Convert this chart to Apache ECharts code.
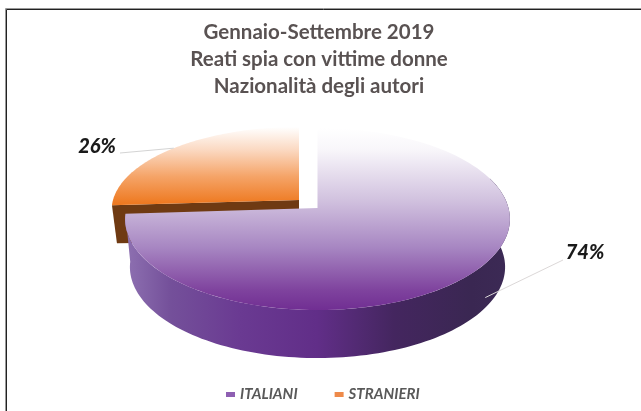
<!DOCTYPE html>
<html><head><meta charset="utf-8">
<style>html,body{margin:0;padding:0;background:#fff}#c{width:641px;height:411px}</style>
<script src="https://cdn.jsdelivr.net/npm/echarts@6/dist/echarts.min.js"></script>
</head><body><div id="c"></div>
<script>
var categories = ['ITALIANI', 'STRANIERI'];
var values = [74, 26];
var titleLines = ['Gennaio-Settembre 2019', 'Reati spia con vittime donne', 'Nazionalità degli autori'];

var total = values.reduce(function (a, b) { return a + b; }, 0);
var k = 0.121;           // perspective of the tilted disc
var slices = [
  { ax: 317.5, ay: 208, rx: 191, ry: 89.7, depth: 48 },
  { ax: 299, ay: 200, rx: 186, ry: 82, depth: 41 }
];
function proj(s, deg, dy, scale) {
  var t = deg * Math.PI / 180, u = Math.sin(t), v = Math.cos(t), w = 1 + k * v;
  return [s.ax + (scale || 1) * s.rx * u / w, s.ay - s.ry * v / w + (dy || 0)];
}
function arc(s, a0, a1, dy, scale) {
  var pts = [], n = 120;
  for (var i = 0; i <= n; i++) pts.push(proj(s, a0 + (a1 - a0) * i / n, dy, scale));
  return pts;
}
function grad(x, y, x2, y2, stops) {
  return new echarts.graphic.LinearGradient(x, y, x2, y2,
    stops.map(function (p) { return { offset: p[0], color: p[1] }; }), true);
}
var ends = [values[0] / total * 360, 360];
var labelStyle = { font: 'italic 900 20px Lato, sans-serif', fill: '#1a1a1a' };

function renderPurple() {
  var s = slices[0], a1 = ends[0];
  var side = arc(s, 70, a1).concat(arc(s, a1, 70, s.depth, 0.975));
  var top = [[s.ax, s.ay]].concat(arc(s, 0, a1));
  var mid = proj(s, a1 / 2 - 8, 34);
  return { type: 'group', children: [
    { type: 'polygon', shape: { points: side }, style: { fill: grad(124, 0, 510, 0, [
      [0, '#8f72b2'], [0.12, '#74509a'], [0.3, '#6a3a92'], [0.5, '#612e88'], [0.7, '#44265f'], [0.9, '#3a2752'], [1, '#3c2a55']]) } },
    { type: 'polygon', shape: { points: top }, style: { fill: grad(0, 128, 0, 312, [
      [0, '#ffffff'], [0.12, '#f8f6fa'], [0.4, '#d0c0de'], [0.65, '#a786c2'], [0.88, '#7f439e'], [1, '#6f2c91']]) } },
    { type: 'line', shape: { x1: mid[0], y1: mid[1], x2: 563, y2: 260 }, style: { stroke: '#dcd8d8', lineWidth: 1 } },
    { type: 'text', style: Object.assign({ text: values[0] + '%', x: 585, y: 253, align: 'center', verticalAlign: 'middle' }, labelStyle) }
  ] };
}
function renderOrange() {
  var s = slices[1], a0 = ends[0];
  var e = proj(s, a0);
  var top = [[s.ax, s.ay]].concat(arc(s, a0, 360));
  var mid = proj(s, (a0 + 360) / 2);
  return { type: 'group', children: [
    { type: 'polygon', shape: { points: [e, [s.ax, s.ay], [s.ax, s.ay + s.depth], [e[0] + 5, e[1] + s.depth - 3]] }, style: { fill: '#6f3a12' } },
    { type: 'polygon', shape: { points: top }, style: { fill: grad(0, 127, 0, 203, [
      [0, '#ffffff'], [0.3, '#fbd9c2'], [0.65, '#f5a468'], [1, '#ee7a22']]) } },
    { type: 'line', shape: { x1: mid[0], y1: mid[1], x2: 120, y2: 153 }, style: { stroke: '#d4d4d4', lineWidth: 1 } },
    { type: 'text', style: Object.assign({ text: values[1] + '%', x: 97, y: 147, align: 'center', verticalAlign: 'middle' }, labelStyle) }
  ] };
}

var chart = echarts.init(document.getElementById('c'), null, { renderer: 'canvas' });
chart.setOption({
  animation: false,
  backgroundColor: '#ffffff',
  title: {
    text: titleLines.join('\n'), left: 314, top: 14, textAlign: 'center',
    textStyle: { fontFamily: 'Lato, sans-serif', fontWeight: 'bold', fontSize: 20.5, lineHeight: 27, color: '#595252' }
  },
  legend: {
    left: 221, top: 382, itemWidth: 9, itemHeight: 5, itemGap: 37,
    icon: 'rect',
    data: [
      { name: categories[0], itemStyle: { color: '#8e5fb2' } },
      { name: categories[1], itemStyle: { color: '#ee8a4a' } }
    ],
    textStyle: { fontFamily: 'Lato, sans-serif', fontStyle: 'italic', fontWeight: 'bold', fontSize: 15, color: '#595959' }
  },
  graphic: [
    { type: 'polyline', silent: true, shape: { points: [[5.5, 411], [5.5, 8.5], [641, 8.5]] }, style: { fill: 'none', stroke: '#999', lineWidth: 1 } },
    { type: 'polyline', silent: true, shape: { points: [[6.5, 411], [6.5, 9.5], [641, 9.5]] }, style: { fill: 'none', stroke: '#222', lineWidth: 1 } }
  ],
  series: [
    { type: 'custom', name: categories[1], coordinateSystem: 'none', z: 2, renderItem: renderOrange, data: [values[1]], itemStyle: { color: '#ee8a4a' } },
    { type: 'custom', name: categories[0], coordinateSystem: 'none', z: 3, renderItem: renderPurple, data: [values[0]], itemStyle: { color: '#8e5fb2' } }
  ]
});
</script></body></html>
